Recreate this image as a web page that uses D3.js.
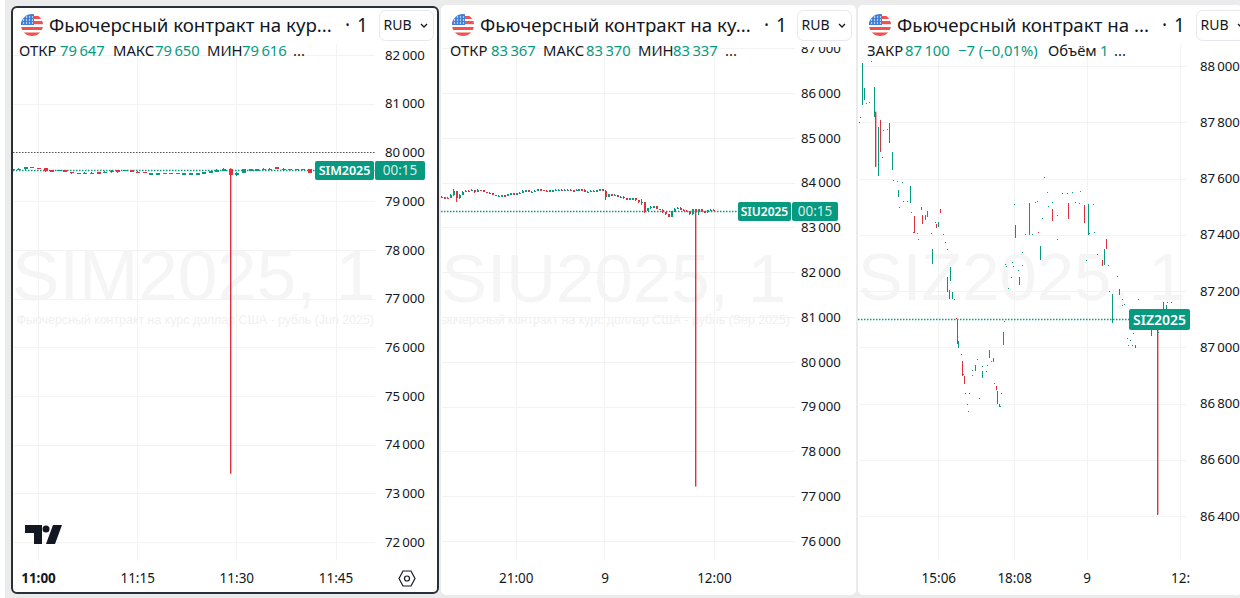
<!DOCTYPE html>
<html><head><meta charset="utf-8">
<script src="https://cdn.jsdelivr.net/npm/d3@7"></script>
<style>html,body{margin:0;padding:0;background:#ebebeb;overflow:hidden}svg{display:block}text{font-family:"Noto Sans",sans-serif}</style>
</head><body><svg id="c" width="1240" height="598"></svg>
<script>
// ---- Panel 1: SIM2025 ----
const simTicks=[82000,81000,80000,79000,78000,77000,76000,75000,74000,73000,72000];
const simTimeTicks=[0,15,30,45];
const simTimeLabels=["11:00","11:15","11:30","11:45"];
const simMinutes=[-4,-3,-2,-1,0,1,2,3,4,5,6,7,8,9,10,11,12,13,14,15,16,17,18,19,20,21,22,23,24,25,26,27,28,29,30,31,32,33,34,35,36,37,38,39,40,41];
const simOpen=[79647,79647,79654,79702,79681,79681,79634,79627,79634,79599,79579,79572,79572,79592,79579,79592,79634,79627,79634,79606,79599,79558,79558,79565,79565,79579,79558,79558,79558,79565,79592,79606,79627,79668,79531,79579,79640,79640,79654,79654,79695,79668,79647,79647,79647,79661];
const simClose=[79668,79668,79695,79688,79668,79613,79613,79640,79620,79572,79565,79586,79586,79579,79606,79627,79592,79640,79620,79592,79586,79572,79572,79579,79579,79565,79572,79572,79572,79592,79613,79647,79668,79531,79586,79654,79654,79654,79668,79668,79675,79654,79661,79661,79661,79579];
const simHigh=[79675,79675,79702,79705,79688,79688,79640,79647,79640,79606,79586,79592,79592,79599,79613,79634,79640,79647,79640,79613,79606,79579,79579,79586,79586,79586,79579,79579,79579,79599,79620,79654,79675,79675,79592,79661,79661,79661,79675,79675,79702,79675,79668,79668,79668,79668];
const simLow=[79640,79640,79647,79681,79661,79606,79606,79620,79613,79565,79558,79565,79565,79572,79572,79586,79586,79620,79613,79586,79579,79551,79551,79558,79558,79558,79551,79551,79551,79558,79586,79599,79620,73400,79524,79572,79634,79634,79647,79647,79668,79647,79640,79640,79640,79572];
const simLast=79638, simAlert=80000;

// ---- Panel 2: SIU2025 ----
const siuTicks=[87000,86000,85000,84000,83000,82000,81000,80000,79000,78000,77000,76000];
const siuTimeTicks=[25,54.7,91.3];
const siuTimeLabels=["21:00","9","12:00"];
const siuClose=[83674,83659,83652,83726,83815,83652,83726,83800,83823,83815,83838,83786,83838,83830,83800,83778,83763,83726,83704,83711,83719,83711,83741,83763,83756,83763,83778,83815,83830,83800,83800,83823,83853,83838,83823,83815,83830,83830,83838,83845,83838,83838,83845,83830,83823,83845,83853,83845,83800,83800,83815,83823,83830,83853,83823,83689,83741,83711,83726,83682,83689,83652,83637,83652,83652,83607,83563,83578,83370,83429,83459,83474,83414,83392,83340,83295,83236,83355,83414,83444,83392,83377,83355,83295,83400,83392,83407,83355,83340,83384,83392,83370];
const siuHigh=[83690,83680,83670,83735,83860,83815,83745,83815,83840,83840,83855,83840,83850,83845,83830,83800,83785,83765,83730,83725,83730,83725,83750,83775,83770,83775,83790,83825,83845,83835,83815,83835,83865,83860,83840,83830,83840,83840,83850,83855,83850,83850,83855,83848,83835,83855,83865,83860,83850,83810,83825,83835,83840,83865,83855,83838,83755,83745,83735,83730,83700,83695,83660,83665,83665,83660,83615,83637,83578,83440,83470,83485,83480,83420,83400,83350,83300,83365,83425,83460,83450,83400,83385,83365,83410,83410,83420,83415,83365,83395,83405,83400];
const siuLow=[83655,83645,83635,83650,83700,83563,83645,83715,83785,83800,83805,83775,83780,83820,83790,83765,83750,83715,83695,83700,83705,83700,83705,83750,83745,83750,83760,83770,83815,83790,83790,83795,83815,83825,83815,83805,83810,83820,83825,83830,83825,83825,83830,83820,83810,83815,83840,83835,83790,83790,83795,83810,83820,83820,83810,83615,83680,83695,83700,83670,83670,83640,83625,83630,83640,83595,83550,83503,83332,83360,83420,83450,83400,83380,83330,83285,83225,83230,83345,83405,83385,83365,83345,83285,83280,77215,83285,83345,83325,83330,83375,83360];
const siuStartOpen=83680, siuLast=83369;

// ---- Panel 3: SIZ2025 ----
const sizTicks=[88000,87800,87600,87400,87200,87000,86800,86600,86400];
const sizTimeTicks=[200,382,556,780];
const sizTimeLabels=["15:06","18:08","9","12:"];
const sizUpMin=[18,22,46,55,88,104,133,168,174,200,417,560,186,229,234,247,287,304,322,331,356,445,598,616,618,746];
const sizUpLow=[87861,87879,87818,87610,87630,87533,87512,87452,87464,87429,87399,87399,87297,87236,87173,86999,86915,86892,86962,86949,87007,87312,87291,87114,87086,87137];
const sizUpHigh=[88010,87921,87924,87784,87695,87559,87573,87470,87485,87446,87514,87509,87351,87286,87197,87022,86936,86916,86989,86961,87054,87359,87351,87161,87188,87149];
const sizDownMin=[48,61,82,141,158,162,194,204,384,474,512,550,222,226,245,256,262,339,342,346,394,602,594,634,672,711,724,740];
const sizDownHigh=[87838,87808,87796,87466,87500,87470,87440,87490,87434,87490,87512,87506,87250,87205,87096,86951,86898,86862,86843,86799,87250,87386,87309,87208,87009,87060,87136,87160];
const sizDownLow=[87642,87695,87725,87408,87488,87440,87423,87476,87387,87450,87456,87443,87197,87170,87013,86898,86870,86847,86797,86787,87223,87351,87289,87185,86997,87040,86405,87137];
const sizDotMin=[12,10,38,26,34,68,76,92,100,112,106,116,124,132,134,148,192,212,382,408,424,432,436,454,460,472,450,486,464,496,508,520,540,528,538,572,562,574,152,216,220,238,260,280,294,306,318,314,326,334,264,274,272,350,349,360,362,376,380,392,402,400,374,368,358,486,554,582,608,630,610,642,646,640,680,660,668,656,664,722,728,750,758];
const sizDotPrice=[87820,87800,88016,87870,87873,87772,87775,87595,87591,87586,87500,87521,87521,87521,87480,87405,87446,87401,87509,87401,87401,87517,87520,87604,87553,87517,87458,87470,87502,87547,87547,87551,87555,87515,87514,87508,87407,87411,87386,87374,87351,87170,86906,86920,86959,86932,86938,86916,86951,86874,86837,86837,86772,86838,86790,87297,87288,87303,87288,87274,87337,87291,87250,87212,87093,87386,87309,87333,87294,87254,87199,87173,87155,87149,87170,87027,87051,87009,87009,87137,87054,87161,87161];
const sizRedDotMin=[64,182,440,602,140,242,254,282,298,270,652];
const sizRedDotPrice=[87678,87405,87411,87385,87410,87105,86975,86900,86821,86799,87034];
const sizLast=87100;

const GREEN="#089981", RED="#e0303f", GRID="#f3f3f3", INK="#131722";
const WMFONT='"Liberation Sans",Arial,sans-serif';
const svg=d3.select("#c");
const fmt=d3.formatLocale({decimal:",",thousands:"\u2009",grouping:[3],currency:["",""]}).format(",d");
let clipN=0;

svg.append("rect").attr("width",1240).attr("height",598).attr("fill","#ebebeb");
svg.append("rect").attr("width",5).attr("height",598).attr("fill","#fff");

function flag(g,cx,cy){
  const id="fl"+(clipN++);
  g.append("clipPath").attr("id",id).append("circle").attr("cx",cx).attr("cy",cy).attr("r",11);
  const f=g.append("g").attr("clip-path",`url(#${id})`);
  f.append("rect").attr("x",cx-11).attr("y",cy-11).attr("width",22).attr("height",22).attr("fill","#fff");
  [[-4,3.2],[2,3],[7.5,4]].forEach(s=>f.append("rect").attr("x",cx-11).attr("y",cy+s[0]).attr("width",22).attr("height",s[1]).attr("fill","#f0524f"));
  f.append("rect").attr("x",cx).attr("y",cy-9).attr("width",11).attr("height",3).attr("fill","#f0524f");
  f.append("rect").attr("x",cx-11).attr("y",cy-11).attr("width",13).attr("height",11).attr("fill","#3f7fd9");
  for(let i=0;i<4;i++)for(let j=0;j<3;j++)
    f.append("circle").attr("cx",cx-8.5+i*3).attr("cy",cy-8+j*3).attr("r",.7).attr("fill","#fff");
}

function panel(o){
  const g=svg.append("g");
  g.append("rect").attr("x",o.left).attr("y",o.top).attr("width",o.right-o.left).attr("height",o.bottom-o.top).attr("rx",5).attr("fill","#fff");
  const plot=g.append("g");
  const y=o.y, x=o.x;
  plot.append("text").attr("x",o.wmX).attr("y",o.wmY).attr("font-size",o.wmSize).attr("fill","#f5f5f5").style("font-family",WMFONT).text(o.wm);
  if(o.wmSub){
    const id="sub"+(clipN++);
    plot.append("clipPath").attr("id",id).append("rect").attr("x",o.left+1).attr("y",300).attr("width",o.plotR-o.left).attr("height",40);
    plot.append("text").attr("x",o.wmSubEnd).attr("y",324).attr("text-anchor","end").attr("font-size",12.4).attr("fill","#f0f0f0")
      .attr("clip-path",`url(#${id})`).style("font-family",WMFONT).text(o.wmSub);
  }
  plot.selectAll(".h").data(o.yTicks).join("line").attr("x1",o.left+1).attr("x2",o.plotR)
    .attr("y1",d=>Math.round(y(d))+.5).attr("y2",d=>Math.round(y(d))+.5).attr("stroke",GRID);
  plot.selectAll(".v").data(o.xTicks).join("line").attr("y1",o.gridTop).attr("y2",o.plotB)
    .attr("x1",d=>Math.round(x(d))+.5).attr("x2",d=>Math.round(x(d))+.5).attr("stroke",GRID);
  const ax=g.append("g").attr("transform",`translate(${o.axisX},0)`)
    .call(d3.axisRight(y).tickValues(o.yTicks).tickSize(0).tickPadding(0).tickFormat(fmt));
  ax.select(".domain").remove();
  ax.selectAll("text").attr("font-size",13.2).attr("fill",INK).style("font-family",'"Noto Sans",sans-serif');
  const bx=g.append("g").attr("transform",`translate(0,${o.plotB+13})`)
    .call(d3.axisBottom(x).tickValues(o.xTicks).tickSize(0).tickPadding(0).tickFormat((d,i)=>o.xLabels[i]));
  bx.select(".domain").remove();
  bx.selectAll("text").attr("font-size",13.5).attr("fill",INK).style("font-family",'"Noto Sans",sans-serif')
    .attr("font-weight",(d,i)=>o.boldFirst&&i==0?700:400);
  g.append("rect").attr("x",o.left+1).attr("y",o.top+1).attr("width",o.right-o.left-2).attr("height",o.coverB-o.top-1).attr("fill","#fff").attr("rx",5);
  return {g,plot};
}

function header(g,o){
  flag(g,o.flagX,25);
  g.append("text").attr("x",o.flagX+17).attr("y",32).attr("font-size",18.7).attr("fill",INK).text(o.title);
  g.append("text").attr("x",o.dotX).attr("y",32).attr("font-size",19).attr("fill",INK).text("·");
  g.append("text").attr("x",o.dotX+12).attr("y",32).attr("font-size",19).attr("fill",INK).text("1");
  g.append("rect").attr("x",o.rubX+.5).attr("y",10.5).attr("width",54).attr("height",30).attr("rx",6).attr("fill","#fff").attr("stroke","#e6e8ee");
  g.append("text").attr("x",o.rubX+4.5).attr("y",30).attr("font-size",14).attr("fill",INK).text("RUB");
  g.append("path").attr("d",`M${o.rubX+42} 24l3 3l3 -3`).attr("fill","none").attr("stroke",INK).attr("stroke-width",1.3);
  o.legend.forEach(t=>g.append("text").attr("x",t[0]).attr("y",56).attr("font-size",14.8).attr("fill",t[2]?GREEN:INK).text(t[1]));
}

function candles(plot,xs,opens,closes,highs,lows,x,y,w){
  const data=xs.map((m,i)=>({m,o:opens[i],c:closes[i],h:highs[i],l:lows[i]}));
  const span=d=>y(Math.min(d.l,d.o,d.c))-y(Math.max(d.h,d.o,d.c));
  plot.selectAll(null).data(data).join("rect")
    .attr("shape-rendering",d=>span(d)>50?"auto":"crispEdges")
    .attr("x",d=>Math.round(x(d.m))).attr("width",d=>span(d)>50?1.4:1)
    .attr("y",d=>y(Math.max(d.h,d.o,d.c))).attr("height",d=>Math.max(1,span(d)))
    .attr("fill",d=>d.c>=d.o?GREEN:RED);
  plot.selectAll(null).data(data).join("rect").attr("shape-rendering","crispEdges")
    .attr("x",d=>Math.round(x(d.m))-Math.floor((w-1)/2)).attr("width",w)
    .attr("y",d=>y(Math.max(d.o,d.c))).attr("height",d=>Math.max(1.5,Math.abs(y(d.o)-y(d.c))))
    .attr("fill",d=>d.c>=d.o?GREEN:RED);
}

function priceLine(plot,y,v,x1,x2,color,sw){
  plot.append("line").attr("x1",x1).attr("x2",x2).attr("y1",Math.round(y(v))+.5).attr("y2",Math.round(y(v))+.5)
    .attr("stroke",color).attr("stroke-width",sw||1).attr("stroke-dasharray","1.5 1.5");
}
function pill(g,x,y,w,h,txt,bold,size,opacity){
  g.append("rect").attr("x",x).attr("y",y).attr("width",w).attr("height",h).attr("rx",2).attr("fill",GREEN);
  g.append("text").attr("x",x+w/2).attr("y",y+h/2+size*.36).attr("text-anchor","middle").attr("font-size",size)
    .attr("font-weight",bold?600:400).attr("fill","#fff").attr("fill-opacity",opacity||1).text(txt);
}

// ===== Panel 1 =====
{
  const y=d3.scaleLinear().domain([82000,72000]).range([55,542]);
  const x=d3.scaleLinear().domain([0,45]).range([38,335.5]);
  const {g,plot}=panel({left:12,right:438,top:7,bottom:593,plotR:375,plotB:560,gridTop:44,coverB:38,axisX:385,
    y,x,yTicks:simTicks,xTicks:simTimeTicks,xLabels:simTimeLabels,boldFirst:true,
    wm:"SIM2025, 1",wmX:12,wmY:300,wmSize:71,wmSubEnd:374,wmSub:"Фьючерсный контракт на курс доллар США - рубль (Jun 2025)"});
  priceLine(plot,y,simAlert,13,375,"#555");
  priceLine(plot,y,simLast,13,375,GREEN,1.3);
  candles(plot,simMinutes,simOpen,simClose,simHigh,simLow,x,y,4);
  pill(g,315,161,59,19,"SIM2025",true,12.5);
  pill(g,375,161,50,19,"00:15",false,13.5,.85);
  header(g,{flagX:32,title:"Фьючерсный контракт на кур...",dotX:345,rubX:379,legend:[
    [19,"ОТКР"],[60,"79\u2009647",1],[113,"МАКС"],[155,"79\u2009650",1],[207,"МИН"],[242,"79\u2009616",1],[293,"..."]]});
  g.append("path").attr("fill","#131722").attr("d","M25 525h17v19h-8v-11h-9z M53 525h9l-7 19h-9z");
  g.append("circle").attr("cx",46).attr("cy",529).attr("r",3.5).attr("fill","#131722");
  g.append("path").attr("fill","none").attr("stroke",INK).attr("stroke-width",1.2)
    .attr("d","M399 578.5l4 -7.5h8l4 7.5l-4 7.5h-8z");
  g.append("circle").attr("cx",407).attr("cy",578.5).attr("r",2.5).attr("fill","none").attr("stroke",INK).attr("stroke-width",1.2);
  g.append("rect").attr("x",12).attr("y",7).attr("width",426).attr("height",586).attr("rx",5).attr("fill","none").attr("stroke","#2a2e39").attr("stroke-width",2);
}

// ===== Panel 2 =====
{
  const y=d3.scaleLinear().domain([86000,76000]).range([93,541]);
  const x=d3.scaleLinear().domain([0,91]).range([441,713]);
  const {g,plot}=panel({left:441,right:856,top:5,bottom:595,plotR:795,plotB:560,gridTop:47,coverB:47,axisX:801,
    y,x,yTicks:siuTicks,xTicks:siuTimeTicks,xLabels:siuTimeLabels,
    wm:"SIU2025, 1",wmX:441,wmY:302,wmSize:69,wmSubEnd:790,wmSub:"Фьючерсный контракт на курс доллар США - рубль (Sep 2025)"});
  priceLine(plot,y,siuLast,441,738,GREEN,1.3);
  const opens=[siuStartOpen].concat(siuClose.slice(0,-1));
  candles(plot,d3.range(siuClose.length),opens,siuClose,siuHigh,siuLow,x,y,2);
  pill(g,738,202,53,19,"SIU2025",true,12);
  pill(g,792,202,46,19,"00:15",false,13.5,.85);
  header(g,{flagX:463,title:"Фьючерсный контракт на ку...",dotX:764,rubX:797,legend:[
    [450,"ОТКР"],[491,"83\u2009367",1],[543,"МАКС"],[586,"83\u2009370",1],[638,"МИН"],[673,"83\u2009337",1],[725,"..."]]});
}

// ===== Panel 3 =====
{
  const y=d3.scaleLinear().domain([88000,86400]).range([66,516]);
  const x=d3.scaleLinear().domain([0,800]).range([855,1188.3]);
  const {g,plot}=panel({left:858,right:1242,top:5,bottom:595,plotR:1187,plotB:560,gridTop:44,coverB:40,axisX:1200,
    y,x,yTicks:sizTicks,xTicks:sizTimeTicks,xLabels:sizTimeLabels,
    wm:"SIZ2025, 1",wmX:858,wmY:300,wmSize:67});
  priceLine(plot,y,sizLast,858,1130,GREEN,1.3);
  candles(plot,sizUpMin,sizUpLow,sizUpHigh,sizUpHigh,sizUpLow,x,y,1);
  candles(plot,sizDownMin,sizDownHigh,sizDownLow,sizDownHigh,sizDownLow,x,y,1);
  plot.selectAll(null).data(sizDotMin.map((m,i)=>[m,sizDotPrice[i]])).join("rect").attr("shape-rendering","crispEdges")
    .attr("x",d=>Math.round(x(d[0]))).attr("y",d=>Math.round(y(d[1]))).attr("width",1).attr("height",1).attr("fill",GREEN);
  plot.selectAll(null).data(sizRedDotMin.map((m,i)=>[m,sizRedDotPrice[i]])).join("rect").attr("shape-rendering","crispEdges")
    .attr("x",d=>Math.round(x(d[0]))).attr("y",d=>Math.round(y(d[1]))).attr("width",1).attr("height",1).attr("fill",RED);
  pill(g,1129,309,61,21,"SIZ2025",true,14);
  header(g,{flagX:880,title:"Фьючерсный контракт на ...",dotX:1162,rubX:1196,legend:[
    [867,"ЗАКР"],[905,"87\u2009100",1],[958,"−7 (−0,01%)",1],[1048,"Объём"],[1100,"1",1],[1114,"..."]]});
}
</script></body></html>
